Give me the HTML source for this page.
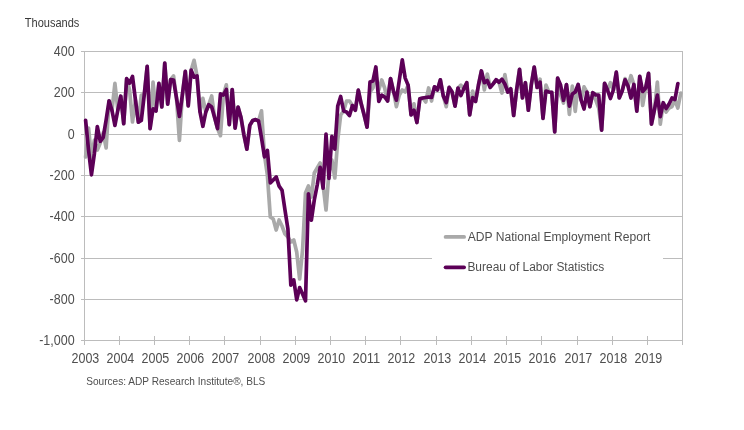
<!DOCTYPE html>
<html><head><meta charset="utf-8"><style>
html,body{margin:0;padding:0;background:#fff;}
body{width:744px;height:430px;overflow:hidden;}
svg{display:block;will-change:transform;}
.t{font-family:"Liberation Sans",sans-serif;font-size:13.8px;fill:#4f4f4f;}
.l{font-family:"Liberation Sans",sans-serif;font-size:12.3px;fill:#4f4f4f;}
.th{font-family:"Liberation Sans",sans-serif;font-size:12px;fill:#383838;}
.s{font-family:"Liberation Sans",sans-serif;font-size:10.6px;fill:#4f4f4f;}
</style></head><body>
<svg width="744" height="430" viewBox="0 0 744 430">
<line x1="84" y1="51.5" x2="683" y2="51.5" stroke="#bcbcbc" stroke-width="1"/>
<line x1="81" y1="51.5" x2="84" y2="51.5" stroke="#bcbcbc" stroke-width="1"/>
<line x1="84" y1="92.5" x2="683" y2="92.5" stroke="#bcbcbc" stroke-width="1"/>
<line x1="81" y1="92.5" x2="84" y2="92.5" stroke="#bcbcbc" stroke-width="1"/>
<line x1="84" y1="134.5" x2="683" y2="134.5" stroke="#bcbcbc" stroke-width="1"/>
<line x1="81" y1="134.5" x2="84" y2="134.5" stroke="#bcbcbc" stroke-width="1"/>
<line x1="84" y1="175.5" x2="683" y2="175.5" stroke="#bcbcbc" stroke-width="1"/>
<line x1="81" y1="175.5" x2="84" y2="175.5" stroke="#bcbcbc" stroke-width="1"/>
<line x1="84" y1="216.5" x2="683" y2="216.5" stroke="#bcbcbc" stroke-width="1"/>
<line x1="81" y1="216.5" x2="84" y2="216.5" stroke="#bcbcbc" stroke-width="1"/>
<line x1="84" y1="258.5" x2="432" y2="258.5" stroke="#bcbcbc" stroke-width="1"/>
<line x1="663" y1="258.5" x2="683" y2="258.5" stroke="#bcbcbc" stroke-width="1"/>
<line x1="81" y1="258.5" x2="84" y2="258.5" stroke="#bcbcbc" stroke-width="1"/>
<line x1="84" y1="299.5" x2="683" y2="299.5" stroke="#bcbcbc" stroke-width="1"/>
<line x1="81" y1="299.5" x2="84" y2="299.5" stroke="#bcbcbc" stroke-width="1"/>
<line x1="84" y1="340.5" x2="683" y2="340.5" stroke="#bcbcbc" stroke-width="1"/>
<line x1="81" y1="340.5" x2="84" y2="340.5" stroke="#bcbcbc" stroke-width="1"/>
<line x1="84.5" y1="51" x2="84.5" y2="345" stroke="#bcbcbc" stroke-width="1"/>
<line x1="682.5" y1="51" x2="682.5" y2="341" stroke="#bcbcbc" stroke-width="1"/>
<line x1="119.5" y1="336" x2="119.5" y2="345" stroke="#bcbcbc" stroke-width="1"/>
<line x1="154.5" y1="336" x2="154.5" y2="345" stroke="#bcbcbc" stroke-width="1"/>
<line x1="189.5" y1="336" x2="189.5" y2="345" stroke="#bcbcbc" stroke-width="1"/>
<line x1="224.5" y1="336" x2="224.5" y2="345" stroke="#bcbcbc" stroke-width="1"/>
<line x1="260.5" y1="336" x2="260.5" y2="345" stroke="#bcbcbc" stroke-width="1"/>
<line x1="295.5" y1="336" x2="295.5" y2="345" stroke="#bcbcbc" stroke-width="1"/>
<line x1="330.5" y1="336" x2="330.5" y2="345" stroke="#bcbcbc" stroke-width="1"/>
<line x1="365.5" y1="336" x2="365.5" y2="345" stroke="#bcbcbc" stroke-width="1"/>
<line x1="400.5" y1="336" x2="400.5" y2="345" stroke="#bcbcbc" stroke-width="1"/>
<line x1="436.5" y1="336" x2="436.5" y2="345" stroke="#bcbcbc" stroke-width="1"/>
<line x1="471.5" y1="336" x2="471.5" y2="345" stroke="#bcbcbc" stroke-width="1"/>
<line x1="506.5" y1="336" x2="506.5" y2="345" stroke="#bcbcbc" stroke-width="1"/>
<line x1="541.5" y1="336" x2="541.5" y2="345" stroke="#bcbcbc" stroke-width="1"/>
<line x1="577.5" y1="336" x2="577.5" y2="345" stroke="#bcbcbc" stroke-width="1"/>
<line x1="612.5" y1="336" x2="612.5" y2="345" stroke="#bcbcbc" stroke-width="1"/>
<line x1="647.5" y1="336" x2="647.5" y2="345" stroke="#bcbcbc" stroke-width="1"/>
<line x1="682.5" y1="336" x2="682.5" y2="345" stroke="#bcbcbc" stroke-width="1"/>
<text x="74.6" y="55.7" text-anchor="end" class="t" textLength="20.83" lengthAdjust="spacingAndGlyphs">400</text>
<text x="74.6" y="96.7" text-anchor="end" class="t" textLength="20.83" lengthAdjust="spacingAndGlyphs">200</text>
<text x="74.6" y="138.7" text-anchor="end" class="t" textLength="6.94" lengthAdjust="spacingAndGlyphs">0</text>
<text x="74.6" y="179.7" text-anchor="end" class="t" textLength="24.99" lengthAdjust="spacingAndGlyphs">-200</text>
<text x="74.6" y="220.7" text-anchor="end" class="t" textLength="24.99" lengthAdjust="spacingAndGlyphs">-400</text>
<text x="74.6" y="262.7" text-anchor="end" class="t" textLength="24.99" lengthAdjust="spacingAndGlyphs">-600</text>
<text x="74.6" y="303.7" text-anchor="end" class="t" textLength="24.99" lengthAdjust="spacingAndGlyphs">-800</text>
<text x="74.6" y="344.7" text-anchor="end" class="t" textLength="35.41" lengthAdjust="spacingAndGlyphs">-1,000</text>
<text x="85.4" y="362.7" text-anchor="middle" class="t" textLength="27.78" lengthAdjust="spacingAndGlyphs">2003</text>
<text x="120.4" y="362.7" text-anchor="middle" class="t" textLength="27.78" lengthAdjust="spacingAndGlyphs">2004</text>
<text x="155.4" y="362.7" text-anchor="middle" class="t" textLength="27.78" lengthAdjust="spacingAndGlyphs">2005</text>
<text x="190.4" y="362.7" text-anchor="middle" class="t" textLength="27.78" lengthAdjust="spacingAndGlyphs">2006</text>
<text x="225.4" y="362.7" text-anchor="middle" class="t" textLength="27.78" lengthAdjust="spacingAndGlyphs">2007</text>
<text x="261.4" y="362.7" text-anchor="middle" class="t" textLength="27.78" lengthAdjust="spacingAndGlyphs">2008</text>
<text x="296.4" y="362.7" text-anchor="middle" class="t" textLength="27.78" lengthAdjust="spacingAndGlyphs">2009</text>
<text x="331.4" y="362.7" text-anchor="middle" class="t" textLength="27.78" lengthAdjust="spacingAndGlyphs">2010</text>
<text x="366.4" y="362.7" text-anchor="middle" class="t" textLength="27.78" lengthAdjust="spacingAndGlyphs">2011</text>
<text x="401.4" y="362.7" text-anchor="middle" class="t" textLength="27.78" lengthAdjust="spacingAndGlyphs">2012</text>
<text x="437.4" y="362.7" text-anchor="middle" class="t" textLength="27.78" lengthAdjust="spacingAndGlyphs">2013</text>
<text x="472.4" y="362.7" text-anchor="middle" class="t" textLength="27.78" lengthAdjust="spacingAndGlyphs">2014</text>
<text x="507.4" y="362.7" text-anchor="middle" class="t" textLength="27.78" lengthAdjust="spacingAndGlyphs">2015</text>
<text x="542.4" y="362.7" text-anchor="middle" class="t" textLength="27.78" lengthAdjust="spacingAndGlyphs">2016</text>
<text x="578.4" y="362.7" text-anchor="middle" class="t" textLength="27.78" lengthAdjust="spacingAndGlyphs">2017</text>
<text x="613.4" y="362.7" text-anchor="middle" class="t" textLength="27.78" lengthAdjust="spacingAndGlyphs">2018</text>
<text x="648.4" y="362.7" text-anchor="middle" class="t" textLength="27.78" lengthAdjust="spacingAndGlyphs">2019</text>
<polyline points="85.60,157.00 88.53,128.00 91.46,158.00 94.40,140.00 97.33,150.00 100.26,143.00 103.19,133.00 106.12,148.00 109.06,100.90 111.99,110.50 114.92,83.40 117.85,110.00 120.78,96.20 123.72,123.70 126.65,78.70 129.58,90.00 132.51,122.00 135.44,100.00 138.38,122.20 141.31,95.00 144.24,95.00 147.17,66.40 150.10,128.60 153.04,82.20 155.97,111.00 158.90,83.40 161.83,107.00 164.76,63.10 167.70,104.10 170.63,79.60 173.56,76.00 176.49,98.00 179.42,140.30 182.36,95.00 185.29,71.40 188.22,105.80 191.15,70.20 194.08,60.30 197.02,76.00 199.95,111.70 202.88,98.30 205.81,112.00 208.74,104.70 211.68,96.00 214.61,117.50 217.54,128.60 220.47,135.70 223.40,95.00 226.34,84.80 229.27,124.60 232.20,89.50 235.13,128.10 238.06,107.00 241.00,117.50 243.93,135.00 246.86,149.20 249.79,125.40 252.72,120.50 255.66,119.60 258.59,121.00 261.52,110.80 264.45,155.00 267.38,175.00 270.32,217.00 273.25,219.00 276.18,230.00 279.11,220.00 282.04,226.00 284.98,234.00 287.91,237.00 290.84,242.00 293.77,240.00 296.70,252.00 299.64,279.00 302.57,250.00 305.50,193.00 308.43,186.00 311.36,197.00 314.30,173.00 317.23,168.00 320.16,163.00 323.09,185.00 326.02,210.00 328.96,172.00 331.89,160.00 334.82,178.00 337.75,140.00 340.68,115.00 343.62,111.00 346.55,101.00 349.48,101.00 352.41,105.60 355.34,110.30 358.28,90.20 361.21,103.80 364.14,115.00 367.07,127.20 370.00,92.00 372.94,88.00 375.87,75.00 378.80,90.00 381.73,80.00 384.66,88.00 387.60,101.00 390.53,78.50 393.46,91.20 396.39,106.60 399.32,95.00 402.26,90.00 405.19,92.00 408.12,85.10 411.05,114.90 413.98,103.80 416.92,122.50 419.85,98.80 422.78,98.00 425.71,102.00 428.64,88.00 431.58,101.00 434.51,86.80 437.44,90.00 440.37,79.80 443.30,96.00 446.24,106.70 449.17,87.40 452.10,92.10 455.03,106.10 457.96,88.00 460.90,85.10 463.83,88.60 466.76,82.70 469.69,114.90 472.62,91.00 475.56,101.40 478.49,85.00 481.42,71.00 484.35,90.00 487.28,74.00 490.22,87.40 493.15,83.90 496.08,79.80 499.01,82.20 501.94,93.00 504.88,74.60 507.81,92.10 510.74,88.80 513.67,115.50 516.60,90.00 519.54,69.30 522.47,98.00 525.40,82.70 528.33,110.20 531.26,85.00 534.20,67.00 537.13,87.40 540.06,79.20 542.99,118.40 545.92,85.10 548.86,92.00 551.79,92.40 554.72,131.80 557.65,78.10 560.58,95.00 563.52,103.00 566.45,84.50 569.38,114.30 572.31,86.20 575.24,111.40 578.18,84.50 581.11,100.00 584.04,86.80 586.97,92.10 589.90,106.70 592.84,92.70 595.77,100.00 598.70,108.00 601.63,130.10 604.56,83.30 607.50,90.00 610.43,82.70 613.36,90.00 616.29,72.20 619.22,97.90 622.16,91.00 625.09,78.60 628.02,86.00 630.95,75.70 633.88,84.50 636.82,111.10 639.75,76.30 642.68,105.50 645.61,88.00 648.54,73.40 651.48,124.20 654.41,110.00 657.34,82.20 660.27,124.20 663.20,104.00 666.14,112.00 669.07,108.00 672.00,106.50 674.93,100.00 677.86,108.00 680.80,93.00" fill="none" stroke="#a9a9a9" stroke-width="3.7" stroke-linejoin="round" stroke-linecap="round"/>
<polyline points="85.60,120.30 88.53,149.90 91.46,174.80 94.40,153.40 97.33,126.50 100.26,141.30 103.19,137.40 106.12,120.00 109.06,100.90 111.99,110.50 114.92,125.50 117.85,110.00 120.78,96.20 123.72,123.70 126.65,78.70 129.58,83.10 132.51,76.40 135.44,100.00 138.38,122.20 141.31,120.50 144.24,95.00 147.17,66.40 150.10,128.60 153.04,108.80 155.97,111.00 158.90,83.40 161.83,107.00 164.76,63.10 167.70,104.10 170.63,79.60 173.56,80.10 176.49,98.00 179.42,116.40 182.36,95.00 185.29,71.40 188.22,105.80 191.15,70.20 194.08,77.20 197.02,76.00 199.95,111.70 202.88,126.30 205.81,112.00 208.74,104.70 211.68,107.00 214.61,117.50 217.54,128.60 220.47,93.90 223.40,95.00 226.34,89.50 229.27,124.60 232.20,89.50 235.13,128.10 238.06,107.00 241.00,117.50 243.93,135.00 246.86,149.20 249.79,125.40 252.72,120.50 255.66,119.60 258.59,121.00 261.52,138.00 264.45,156.80 267.38,150.50 270.32,182.80 273.25,180.00 276.18,176.90 279.11,186.10 282.04,190.30 284.98,210.00 287.91,229.00 290.84,285.20 293.77,279.90 296.70,299.80 299.64,287.60 302.57,294.00 305.50,300.90 308.43,193.80 311.36,220.20 314.30,200.00 317.23,185.00 320.16,167.30 323.09,188.20 326.02,134.20 328.96,178.40 331.89,136.30 334.82,149.10 337.75,106.00 340.68,96.50 343.62,111.00 346.55,112.00 349.48,115.50 352.41,105.60 355.34,110.30 358.28,90.20 361.21,103.80 364.14,115.00 367.07,127.20 370.00,82.00 372.94,81.00 375.87,67.00 378.80,101.40 381.73,95.10 384.66,97.00 387.60,101.00 390.53,78.50 393.46,91.20 396.39,100.20 399.32,80.00 402.26,59.90 405.19,78.10 408.12,85.10 411.05,114.90 413.98,110.20 416.92,122.50 419.85,98.80 422.78,98.00 425.71,97.50 428.64,97.00 431.58,97.40 434.51,86.80 437.44,90.00 440.37,79.80 443.30,96.00 446.24,102.60 449.17,87.40 452.10,92.10 455.03,106.10 457.96,88.00 460.90,95.60 463.83,88.60 466.76,82.70 469.69,114.90 472.62,97.50 475.56,101.40 478.49,85.00 481.42,71.00 484.35,82.70 487.28,80.50 490.22,87.40 493.15,83.90 496.08,79.80 499.01,82.20 501.94,79.20 504.88,84.00 507.81,92.10 510.74,88.80 513.67,115.50 516.60,90.00 519.54,69.30 522.47,98.00 525.40,82.70 528.33,110.20 531.26,85.00 534.20,67.00 537.13,87.40 540.06,82.20 542.99,118.40 545.92,91.00 548.86,92.00 551.79,92.40 554.72,131.80 557.65,78.10 560.58,85.00 563.52,100.30 566.45,84.50 569.38,106.10 572.31,94.00 575.24,92.00 578.18,84.50 581.11,100.00 584.04,109.00 586.97,92.10 589.90,106.70 592.84,92.70 595.77,95.00 598.70,95.00 601.63,130.10 604.56,83.30 607.50,90.00 610.43,98.50 613.36,90.00 616.29,72.20 619.22,97.90 622.16,91.00 625.09,79.80 628.02,86.00 630.95,98.00 633.88,84.50 636.82,111.10 639.75,76.30 642.68,91.50 645.61,88.00 648.54,73.40 651.48,124.20 654.41,110.00 657.34,95.00 660.27,116.60 663.20,102.70 666.14,108.50 669.07,104.00 672.00,98.00 674.93,99.50 677.86,83.50" fill="none" stroke="#5c0057" stroke-width="3.7" stroke-linejoin="round" stroke-linecap="round"/>
<rect x="432" y="219" width="231" height="66" fill="#fff"/>
<line x1="445.6" y1="236.9" x2="464.1" y2="236.9" stroke="#a9a9a9" stroke-width="3.8" stroke-linecap="round"/>
<line x1="445.6" y1="267.3" x2="464.1" y2="267.3" stroke="#5c0057" stroke-width="3.8" stroke-linecap="round"/>
<text x="467.8" y="241" class="l" textLength="182.5" lengthAdjust="spacingAndGlyphs">ADP National Employment Report</text>
<text x="467.4" y="271.4" class="l" textLength="136.8" lengthAdjust="spacingAndGlyphs">Bureau of Labor Statistics</text>
<text x="24.8" y="26.6" class="th" textLength="54.5" lengthAdjust="spacingAndGlyphs">Thousands</text>
<text x="86.2" y="384.8" class="s" textLength="179.1" lengthAdjust="spacingAndGlyphs">Sources: ADP Research Institute®, BLS</text>
</svg>
</body></html>
